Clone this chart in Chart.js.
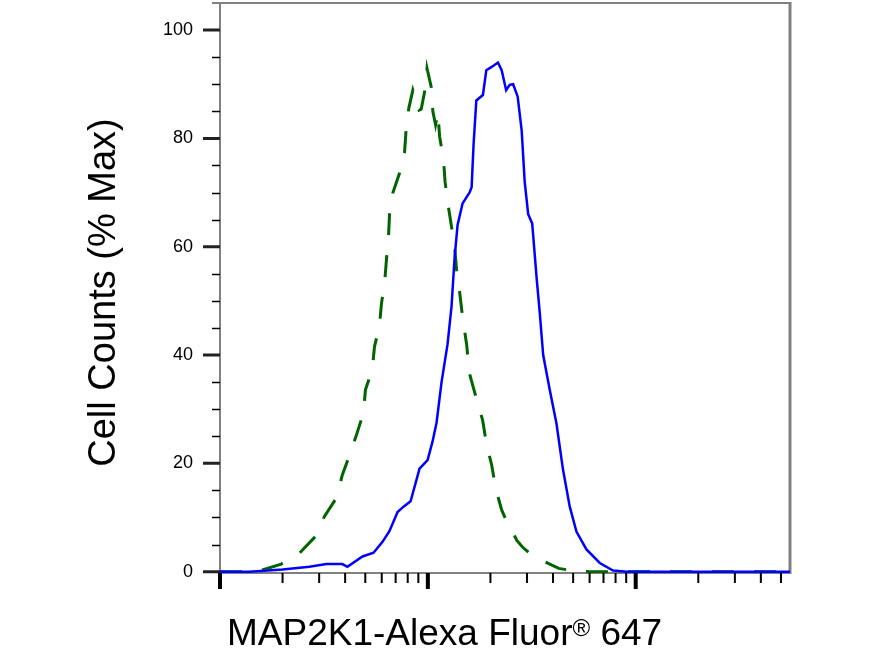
<!DOCTYPE html>
<html>
<head>
<meta charset="utf-8">
<title>MAP2K1 flow histogram</title>
<script src="https://cdn.jsdelivr.net/npm/chart.js@4.4.0/dist/chart.umd.min.js"></script>
<style>
    html, body { margin: 0; padding: 0; background: #fff; }
    #wrap { width: 882px; height: 665px; position: relative; }
</style>
</head>
<body>
<div id="wrap"><canvas id="histChart"></canvas></div>
<script>
// Stained sample (solid blue)
const stainedX = [10, 13.8, 20.0, 26.9, 32.5, 38.8, 41.0, 48.5, 54.8, 60.5, 65.4, 71.5, 76.4, 82.6, 91.2, 99.7,
    105.3, 110.1, 116.4, 124.4, 130.0, 134.5, 139.0, 146.9, 158.8, 162.4, 166.0, 171.1, 184.0, 191.1, 202.8,
    217.4, 226.5, 238.1, 247.5, 257.3, 270.5, 282.7, 292.3, 303.9, 317.7, 334.0, 345.1, 358.8, 385.8, 415.5,
    447.1, 481.6, 518.6, 579.4, 671.6, 778.2, 906, 5525];
const stainedY = [0, 0, 0.4, 0.9, 1.4, 1.4, 0.9, 2.8, 3.5, 5.5, 7.5, 11, 12, 13, 19, 20.6,
    24, 27.5, 35, 42, 49, 58, 64, 68, 70, 71, 79, 87, 88, 92.6, 93.2,
    94, 92.6, 88.9, 89.9, 90, 87.7, 81.5, 72, 66, 64.3, 54, 48, 40, 33.6, 27.4,
    18.8, 12, 7.4, 4.1, 1.6, 0.2, 0, 0];

// Control (dashed green)
const controlX = [10, 13.1, 16.0, 19.7, 24.1, 28.8, 31.8, 36.3, 38.8, 42.0, 45.4, 49.0, 50.1, 54.0, 55.4, 58.5,
    59.8, 61.9, 63.3, 64.7, 65.4, 67.8, 73.1, 77.2, 78.7, 81.0, 84.7, 90.7, 92.9, 97.5, 99.1, 103.8,
    105.7, 108.9, 111.7, 113.9, 119.0, 121.0, 124.8, 129.6, 134.5, 137.5, 142.1, 146.9, 153.6, 158.8,
    169.7, 183.4, 191.8, 202.8, 211.9, 226.5, 239.4, 253.1, 267.5, 285.9, 315.9, 349.1, 385.8, 426.4,
    508.9, 601.0, 5525];
const controlY = [0, 0, 0.3, 1.4, 3.4, 6.5, 10.2, 13.6, 17.9, 21.5, 25.3, 29.3, 33.6, 37.3, 41.6, 45.3,
    49.5, 53.2, 57.9, 62, 66, 69.9, 73.6, 77.3, 81.9, 85.6, 88.9, 85.2, 85.4, 89.5, 92.9, 89.5,
    85, 82.5, 84.8, 80.4, 76, 72, 68, 64, 60, 55.7, 51.7, 47, 42, 36.5,
    32.5, 28, 23.4, 19.7, 15.4, 11.4, 9.3, 7.7, 5.8, 4.5, 3.1, 2.2, 1.4, 0.6,
    0.1, 0, 0];

// Axis ticks
const yTickValues = [0, 20, 40, 60, 80, 100];
const yTickLabels = ['0', '20', '40', '60', '80', '100'];
const yMinorTicks = [5, 10, 15, 25, 30, 35, 45, 50, 55, 65, 70, 75, 85, 90, 95];
const xMajorTicks = [10, 100, 1000];
const xMinorTicks = [20, 30, 40, 50, 60, 70, 80, 90, 200, 300, 400, 500, 600, 700, 800, 900,
    2000, 3000, 4000, 5000];

const xTitle = 'MAP2K1-Alexa Fluor';
const xTitleMark = '\u00AE';
const xTitleTail = ' 647';
const yTitle = 'Cell Counts (% Max)';

const FONT = '"Liberation Sans", Arial, Helvetica, sans-serif';

function toPoints(xs, ys) {
    return xs.map((v, i) => ({ x: v, y: ys[i] }));
}

// Draws the FlowJo-style frame, ticks and axis titles
const flowAxes = {
    id: 'flowAxes',
    beforeDatasetsDraw(chart) {
        const { ctx, chartArea: a, scales } = chart;
        const xs = scales.x;
        const ys = scales.y;
        ctx.save();

        // frame
        ctx.strokeStyle = '#808080';
        ctx.lineWidth = 2;
        ctx.beginPath();
        ctx.moveTo(a.left - 8, a.top);
        ctx.lineTo(a.right, a.top);
        ctx.moveTo(a.left, a.top);
        ctx.lineTo(a.left, a.bottom);
        ctx.moveTo(a.left, a.bottom);
        ctx.lineTo(a.right, a.bottom);
        ctx.stroke();
        ctx.lineWidth = 3;
        ctx.beginPath();
        ctx.moveTo(a.right, a.top - 1);
        ctx.lineTo(a.right, a.bottom + 1);
        ctx.stroke();

        // y ticks
        ctx.strokeStyle = '#000';
        ctx.lineWidth = 1.5;
        ctx.beginPath();
        yMinorTicks.forEach(v => {
            const py = Math.round(ys.getPixelForValue(v)) + 0.5;
            ctx.moveTo(a.left - 8, py);
            ctx.lineTo(a.left, py);
        });
        ctx.stroke();
        ctx.strokeStyle = '#222';
        ctx.lineWidth = 3;
        ctx.beginPath();
        yTickValues.forEach(v => {
            const py = ys.getPixelForValue(v);
            ctx.moveTo(a.left - 17, py);
            ctx.lineTo(a.left, py);
        });
        ctx.stroke();

        ctx.fillStyle = '#000';
        ctx.font = '18px ' + FONT;
        ctx.textAlign = 'right';
        ctx.textBaseline = 'middle';
        yTickValues.forEach((v, i) => {
            ctx.fillText(yTickLabels[i], a.left - 27, ys.getPixelForValue(v));
        });

        // x ticks (log decades)
        ctx.strokeStyle = '#000';
        ctx.lineWidth = 2;
        ctx.beginPath();
        xMinorTicks.forEach(v => {
            const px = xs.getPixelForValue(v);
            ctx.moveTo(px, a.bottom);
            ctx.lineTo(px, a.bottom + 10);
        });
        ctx.stroke();
        ctx.lineWidth = 4;
        ctx.beginPath();
        xMajorTicks.forEach(v => {
            const px = xs.getPixelForValue(v);
            ctx.moveTo(px, a.bottom);
            ctx.lineTo(px, a.bottom + 16);
        });
        ctx.stroke();

        // x title
        ctx.textAlign = 'left';
        ctx.textBaseline = 'alphabetic';
        ctx.font = '37px ' + FONT;
        let tx = 227;
        ctx.fillText(xTitle, tx, 645);
        tx += ctx.measureText(xTitle).width;
        ctx.font = '24px ' + FONT;
        ctx.fillText(xTitleMark, tx, 636);
        tx += ctx.measureText(xTitleMark).width;
        ctx.font = '37px ' + FONT;
        ctx.fillText(xTitleTail, tx, 645);

        // y title
        ctx.save();
        ctx.translate(114.5, 292.5);
        ctx.rotate(-Math.PI / 2);
        ctx.font = '38px ' + FONT;
        ctx.textAlign = 'center';
        ctx.fillText(yTitle, 0, 0);
        ctx.restore();

        ctx.restore();
    }
};

new Chart(document.getElementById('histChart'), {
    type: 'line',
    data: {
        datasets: [
            {
                label: 'MAP2K1',
                data: toPoints(stainedX, stainedY),
                borderColor: '#0000ff',
                borderWidth: 2.5,
                pointRadius: 0,
                tension: 0,
                fill: false
            },
            {
                label: 'Control',
                data: toPoints(controlX, controlY),
                borderColor: '#006400',
                borderWidth: 3,
                borderDash: [22, 20],
                pointRadius: 0,
                tension: 0,
                fill: false
            }
        ]
    },
    options: {
        responsive: true,
        maintainAspectRatio: false,
        animation: false,
        layout: { padding: { left: 220, top: 3, right: 92, bottom: 92 } },
        plugins: {
            legend: { display: false },
            tooltip: { enabled: false }
        },
        scales: {
            x: { type: 'logarithmic', display: false, min: 10, max: 5525 },
            y: { type: 'linear', display: false, min: -0.25, max: 105 }
        }
    },
    plugins: [flowAxes]
});
</script>
</body>
</html>
